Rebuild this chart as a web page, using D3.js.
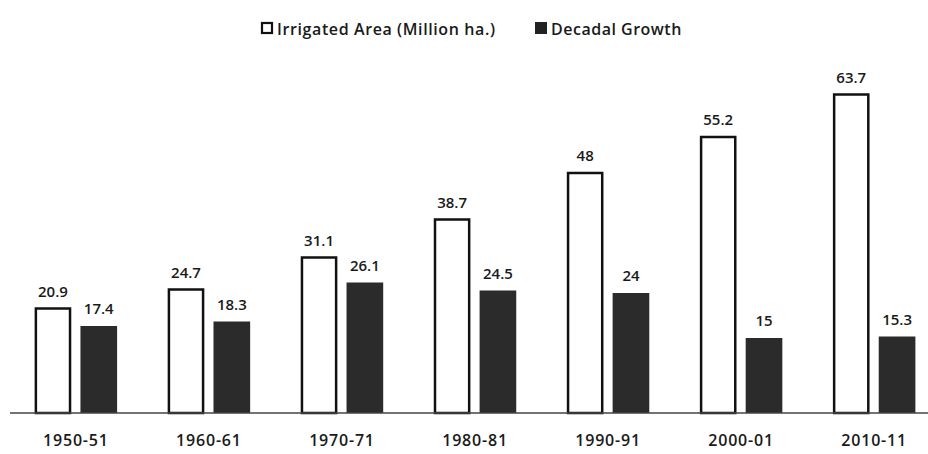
<!DOCTYPE html>
<html>
<head>
<meta charset="utf-8">
<script src="https://cdn.jsdelivr.net/npm/d3@7"></script>
<style>
  body { margin: 0; background: #fff; }
  text { font-family: "Open Sans", Lato, sans-serif; fill: #1a1a1a; }
</style>
</head>
<body>
<script>
/*** DATA ***/
const years = ["1950-51", "1960-61", "1970-71", "1980-81", "1990-91", "2000-01", "2010-11"];
const irrigated = [20.9, 24.7, 31.1, 38.7, 48, 55.2, 63.7];
const growth = [17.4, 18.3, 26.1, 24.5, 24, 15, 15.3];
const seriesNames = ["Irrigated Area (Million ha.)", "Decadal Growth"];

/*** GRAPH ***/
const W = 928, H = 454;
const baseY = 413;

const svg = d3.select("body").append("svg")
  .attr("width", W)
  .attr("height", H);

/* x: groups, then the two bars inside a group */
const x0 = d3.scaleBand()
  .domain(years)
  .range([12, 938])
  .paddingInner(0.38)
  .paddingOuter(0.17);

const x1 = d3.scaleBand()
  .domain([0, 1])
  .range([0, x0.bandwidth()])
  .paddingInner(0.2);

const y = d3.scaleLinear()
  .domain([0, 70])
  .range([baseY, baseY - 350]);

const rows = years.map((yr, i) => ({ year: yr, vals: [irrigated[i], growth[i]] }));

const groups = svg.selectAll(".grp")
  .data(rows)
  .enter().append("g")
  .attr("class", "grp")
  .attr("transform", d => "translate(" + x0(d.year) + ",0)");

groups.selectAll("rect")
  .data(d => d.vals.map((v, k) => ({ k: k, v: v })))
  .enter().append("rect")
  .attr("x", d => x1(d.k) + (d.k === 0 ? 1.25 : 0))
  .attr("y", d => y(d.v))
  .attr("width", d => x1.bandwidth() - (d.k === 0 ? 2.5 : 0))
  .attr("height", d => y(0) - y(d.v))
  .style("fill", d => d.k === 0 ? "#fff" : "#2b2b2b")
  .style("stroke", d => d.k === 0 ? "#111" : "none")
  .style("stroke-width", 2.5);

/* valeurs au-dessus des barres */
groups.selectAll(".val")
  .data(d => d.vals.map((v, k) => ({ k: k, v: v })))
  .enter().append("text")
  .attr("class", "val")
  .attr("x", d => x1(d.k) + x1.bandwidth() / 2)
  .attr("y", d => y(d.v) - 12)
  .attr("text-anchor", "middle")
  .style("font-size", "15px")
  .style("font-weight", 600)
  .text(d => d.v);

/* ligne de base */
svg.append("line")
  .attr("x1", 10)
  .attr("x2", W)
  .attr("y1", baseY)
  .attr("y2", baseY)
  .style("stroke", "#444")
  .style("stroke-width", 1.5);

/* axe x */
const xAxis = d3.axisBottom(x0).tickSize(0).tickPadding(22);
const gx = svg.append("g")
  .attr("transform", "translate(0," + baseY + ")")
  .call(xAxis);
gx.select(".domain").remove();
gx.selectAll("text")
  .style("font-size", "16px")
  .style("font-weight", 600)
  .style("letter-spacing", "0.8px")
  .style("font-family", "'Open Sans', Lato, sans-serif")
  .attr("fill", "#1a1a1a");

/* légende */
const legendX = [261, 535];
const legend = svg.selectAll(".legend")
  .data(seriesNames)
  .enter().append("g")
  .attr("class", "legend")
  .attr("transform", (d, i) => "translate(" + legendX[i] + ",22)");

legend.append("rect")
  .attr("x", (d, i) => i === 0 ? 1 : 0)
  .attr("y", (d, i) => i === 0 ? 1 : 0)
  .attr("width", (d, i) => i === 0 ? 10 : 12)
  .attr("height", (d, i) => i === 0 ? 10 : 12)
  .style("fill", (d, i) => i === 0 ? "#fff" : "#222")
  .style("stroke", (d, i) => i === 0 ? "#111" : "none")
  .style("stroke-width", 2.2);

legend.append("text")
  .attr("x", 16)
  .attr("y", 12.5)
  .style("font-size", "16px")
  .style("font-weight", 600)
  .style("letter-spacing", (d, i) => i === 0 ? "0.6px" : "0.5px")
  .text(d => d);
</script>
</body>
</html>
